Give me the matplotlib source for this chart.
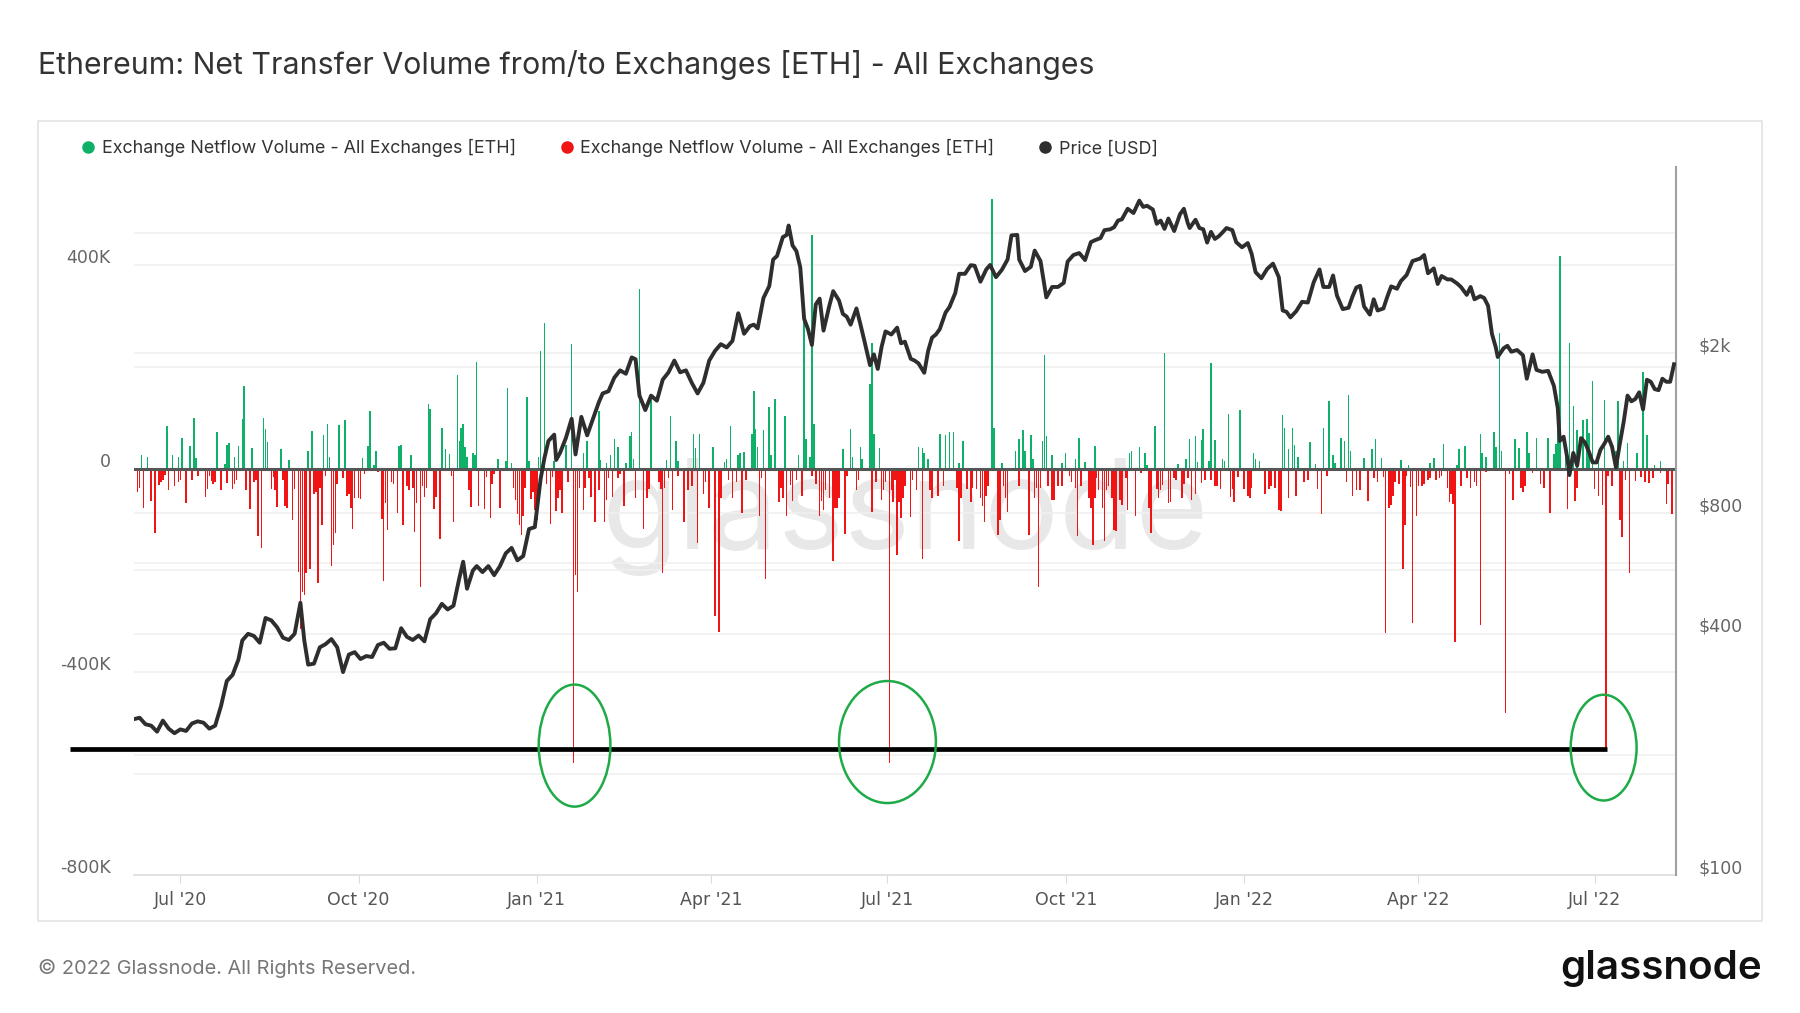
import numpy as np
import pandas as pd
import matplotlib
matplotlib.use("Agg")
import matplotlib.pyplot as plt
import matplotlib.dates as mdates
from matplotlib.patches import Ellipse, Rectangle
from matplotlib.lines import Line2D
from matplotlib.ticker import FixedLocator, NullFormatter
from matplotlib.transforms import ScaledTranslation, blended_transform_factory

# ---------- DATA ----------
START = pd.Timestamp("2020-06-07")   # day 0 of the netflow day offsets

# inflow days (net positive, green) : day offset from START, value in K ETH
GREEN_DAYS = [4, 7, 17, 20, 23, 25, 29, 31, 32, 43, 47, 48, 49, 52, 54, 56, 57, 61, 67, 68,
              69, 76, 80, 90, 92, 98, 100, 101, 106, 109, 118, 121, 122, 124, 125, 137, 138, 143, 152, 153,
              159, 161, 163, 167, 168, 169, 170, 171, 172, 175, 176, 177, 188, 192, 193, 195, 203, 204, 209, 210,
              212, 217, 223, 226, 232, 234, 240, 241, 244, 246, 248, 250, 254, 256, 257, 258, 261, 267, 275, 277,
              280, 281, 289, 290, 292, 299, 305, 306, 308, 312, 313, 315,
              319, 320, 321, 322, 325, 328, 329, 331, 336, 343, 346, 347, 349, 350, 351, 366, 370, 371, 375, 376,
              380, 381, 382, 385, 405, 407, 408, 410, 416, 419, 421, 423, 426, 428, 443, 444, 448, 455, 457, 459,
              460, 463, 464, 469, 470, 471, 474,
              479, 481, 486, 488, 491, 496, 514, 515, 519, 522, 523, 527, 532, 539, 543, 545, 548, 549, 551, 552,
              555, 556, 558, 562, 563, 565, 571, 578, 579, 581, 593, 594, 596, 598, 599, 601, 607, 610, 614, 617,
              619, 620, 623, 625, 627, 628, 635,
              639, 641, 644, 654, 658, 669, 671, 676, 683, 684, 687, 695, 696, 698, 702, 703, 705, 706, 713, 715,
              719, 720, 724, 730, 733, 734, 735, 736, 739, 741, 743, 745, 748, 750, 751, 753, 756, 759, 765, 766,
              769, 771, 776, 779, 781, 785, 788]
GREEN_K = [26, 22, 83, 26, 22, 61, 44, 100, 20, 71, 8, 47, 51, 22, 44, 97, 162, 41, 100, 77,
           53, 39, 17, 35, 74, 65, 88, 22, 85, 95, 20, 44, 114, 6, 35, 44, 46, 26, 127, 118,
           79, 39, 29, 183, 55, 79, 88, 43, 22, 31, 26, 210, 18, 14, 159, 10, 141, 14, 22, 231,
           286, 14, 47, 245, 31, 55, 113, 16, 10, 26, 59, 43, 10, 63, 71, 18, 353, 147, 16, 103,
           55, 14, 68, 40, 68, 43, 13, 18, 83, 26, 31, 32,
           67, 153, 77, 43, 75, 121, 26, 137, 103, 26, 296, 59, 22, 460, 88, 39, 77, 22, 43, 18,
           167, 247, 67, 40, 43, 41, 31, 18, 67, 65, 71, 71, 10, 55, 531, 79, 10, 35, 59, 76,
           35, 65, 18, 55, 223, 64, 26,
           10, 31, 18, 61, 13, 44, 31, 35, 43, 31, 6, 83, 227, 8, 18, 59, 63, 13, 56, 77,
           14, 207, 56, 18, 14, 107, 115, 31, 18, 14, 105, 79, 39, 79, 47, 22, 53, 8, 79, 133,
           26, 10, 61, 55, 145, 35, 20,
           39, 59, 20, 17, 6, 10, 20, 48, 6, 39, 44, 67, 31, 22, 71, 43, 267, 35, 59, 41,
           71, 31, 61, 61, 29, 48, 75, 418, 47, 247, 123, 75, 96, 97, 69, 173, 37, 135, 35, 133,
           14, 51, 31, 189, 65, 6, 14]

# outflow days (net negative, red)
RED_DAYS = [2, 3, 5, 9, 11, 13, 14, 15, 16, 18, 21, 23, 24, 27, 30, 33, 37, 38, 39, 40,
            41, 42, 45, 48, 51, 52, 53, 58, 60, 62, 63, 64, 66, 71, 72, 73, 74, 77, 78, 79,
            82, 83, 85, 86, 87, 88, 89, 91, 93, 94, 95, 96, 97, 99, 102, 103, 104, 105, 108, 110,
            111, 112, 113, 114, 116, 117, 119, 126, 128, 129, 130, 131, 133, 134, 136, 139, 141, 142, 144, 145,
            146, 148, 149, 150, 151, 155, 156,
            158, 164, 165, 173, 174, 178, 181, 182, 184, 185, 186, 189, 196, 197, 198, 199, 200, 201, 202, 205,
            206, 207, 208, 213, 215, 216, 218, 219, 220, 221, 224, 227, 228, 229, 230, 232, 233, 235, 236, 238,
            240, 243, 244, 245, 247, 250, 251, 253, 259, 263, 265, 266, 271, 272, 273, 274, 276, 278, 281, 284,
            286, 288, 291, 294, 295, 297, 300, 302, 303, 307, 309, 311, 314, 316,
            323, 324, 326, 333, 334, 335, 337, 339, 340, 342, 345, 350, 352, 354, 355, 356, 357, 359, 361, 362,
            363, 364, 367, 368, 373, 374, 381, 383, 386, 387, 388, 390, 391, 392, 393, 394, 395, 396, 397, 398,
            401, 402, 404, 407, 411, 412, 415, 418, 425, 426, 427, 430, 432, 433, 435, 437, 438, 439, 440, 441,
            446, 447, 449, 450, 451, 457, 462, 465, 466, 467, 468, 472, 474, 475, 477,
            479, 483, 484, 486, 487, 489, 493, 494, 495, 496, 497, 498, 500, 501, 502, 503, 505, 506, 507, 509,
            510, 512, 513, 517, 520, 524, 525, 528, 529, 530, 531, 534, 535, 537, 538, 541, 542, 544, 546, 548,
            551, 553, 556, 558, 559, 561, 566, 567, 568, 570, 573, 575, 576, 577, 584, 586, 587, 589, 591, 592,
            596, 600, 604, 606, 611, 613, 616, 626, 629, 631, 633, 637,
            640, 642, 645, 646, 648, 649, 650, 651, 653, 655, 656, 657, 659, 660, 662, 663, 665, 666, 668, 669,
            672, 674, 675, 678, 679, 680, 681, 682, 685, 688, 690, 692, 693, 695, 698, 708, 710, 712, 716, 717,
            718, 722, 726, 728, 731, 740, 741, 744, 745, 754, 756, 758, 760, 761, 763, 767, 768, 770, 772, 775,
            778, 780, 782, 784, 788, 791, 792, 794]
RED_K = [-46, -38, -78, -64, -126, -32, -26, -22, -12, -43, -35, -26, -22, -67, -22, -14, -56, -40, -14, -24,
         -30, -26, -43, -28, -40, -30, -22, -43, -80, -26, -23, -132, -156, -40, -16, -43, -76, -22, -74, -78,
         -102, -40, -204, -316, -243, -249, -206, -197, -50, -46, -226, -38, -112, -14, -192, -150, -126, -30, -18, -54,
         -50, -78, -118, -58, -58, -60, -10, -6, -100, -221, -68, -120, -26, -30, -88, -112, -34, -43, -38, -124,
         -67, -233, -34, -56, -38, -80, -56,
         -138, -14, -106, -43, -76, -74, -80, -16, -98, -30, -10, -78, -38, -62, -90, -112, -130, -94, -38, -60,
         -46, -82, -102, -30, -110, -16, -84, -58, -42, -88, -26, -580, -210, -243, -38, -82, -38, -18, -56, -106,
         -42, -106, -62, -18, -56, -18, -10, -74, -58, -118, -58, -40, -26, -40, -206, -38, -18, -82, -14, -106,
         -42, -34, -146, -50, -26, -78, -291, -321, -58, -22, -58, -26, -88, -22,
         -94, -18, -217, -66, -38, -58, -94, -32, -64, -22, -54, -14, -30, -94, -64, -82, -42, -58, -182, -78,
         -78, -58, -128, -14, -42, -22, -86, -26, -62, -42, -26, -580, -42, -66, -22, -170, -66, -98, -58, -34,
         -96, -22, -42, -178, -42, -58, -54, -34, -38, -142, -58, -40, -66, -38, -40, -58, -74, -106, -54, -34,
         -130, -102, -34, -58, -86, -34, -130, -58, -38, -233, -38, -34, -62, -62, -34,
         -34, -14, -26, -38, -132, -34, -58, -78, -150, -58, -18, -42, -78, -142, -42, -34, -58, -120, -122, -62,
         -72, -18, -82, -94, -8, -78, -126, -40, -58, -42, -32, -67, -66, -19, -22, -58, -30, -19, -62, -50,
         -28, -22, -22, -34, -34, -40, -56, -40, -66, -16, -40, -54, -58, -38, -50, -40, -34, -38, -82, -84,
         -58, -54, -26, -22, -40, -90, -14, -26, -54, -43, -42, -64,
         -18, -26, -16, -324, -78, -72, -54, -26, -31, -198, -112, -14, -36, -303, -94, -34, -34, -30, -22, -18,
         -22, -18, -14, -38, -66, -50, -70, -341, -34, -18, -38, -26, -34, -307, -6, -481, -10, -62, -38, -46,
         -34, -8, -30, -38, -88, -80, -14, -64, -38, -40, -54, -72, -552, -14, -34, -102, -134, -22, -206, -24,
         -16, -26, -28, -18, -8, -70, -30, -90]

PRICE_DATES = [
    "2020-06-07", "2020-06-10", "2020-06-13", "2020-06-16", "2020-06-19", "2020-06-22", "2020-06-25", "2020-06-28",
    "2020-07-01", "2020-07-04", "2020-07-07", "2020-07-10", "2020-07-13", "2020-07-16", "2020-07-19", "2020-07-22",
    "2020-07-25", "2020-07-28", "2020-07-31", "2020-08-02", "2020-08-05", "2020-08-08", "2020-08-11", "2020-08-14",
    "2020-08-17", "2020-08-20", "2020-08-23", "2020-08-26", "2020-08-29", "2020-09-01", "2020-09-03", "2020-09-05",
    "2020-09-08", "2020-09-11", "2020-09-14", "2020-09-17", "2020-09-20", "2020-09-23", "2020-09-26", "2020-09-29",
    "2020-10-02", "2020-10-05", "2020-10-08", "2020-10-11", "2020-10-14", "2020-10-17", "2020-10-20", "2020-10-23",
    "2020-10-26", "2020-10-29", "2020-11-01", "2020-11-04", "2020-11-07", "2020-11-10", "2020-11-13", "2020-11-16",
    "2020-11-19", "2020-11-22", "2020-11-24", "2020-11-26", "2020-11-29", "2020-12-01", "2020-12-04", "2020-12-07",
    "2020-12-10", "2020-12-13", "2020-12-16", "2020-12-19", "2020-12-22", "2020-12-25", "2020-12-28", "2020-12-31",
    "2021-01-03", "2021-01-05", "2021-01-07", "2021-01-10", "2021-01-11", "2021-01-13", "2021-01-16", "2021-01-19",
    "2021-01-21", "2021-01-24", "2021-01-27", "2021-01-30", "2021-02-02", "2021-02-04", "2021-02-07", "2021-02-10",
    "2021-02-13", "2021-02-16", "2021-02-19", "2021-02-21", "2021-02-23", "2021-02-26", "2021-03-01", "2021-03-04",
    "2021-03-07", "2021-03-10", "2021-03-13", "2021-03-16", "2021-03-19", "2021-03-22", "2021-03-25", "2021-03-28",
    "2021-03-31", "2021-04-03", "2021-04-06", "2021-04-09", "2021-04-12", "2021-04-15", "2021-04-16", "2021-04-18",
    "2021-04-21", "2021-04-23", "2021-04-25", "2021-04-28", "2021-05-01", "2021-05-03", "2021-05-05", "2021-05-08",
    "2021-05-10", "2021-05-11", "2021-05-13", "2021-05-15", "2021-05-17", "2021-05-19", "2021-05-21", "2021-05-23",
    "2021-05-25", "2021-05-27", "2021-05-29", "2021-06-01", "2021-06-03", "2021-06-06", "2021-06-08", "2021-06-10",
    "2021-06-12", "2021-06-15", "2021-06-17", "2021-06-19", "2021-06-22", "2021-06-24", "2021-06-26", "2021-06-28",
    "2021-06-30", "2021-07-03", "2021-07-06", "2021-07-08", "2021-07-10", "2021-07-13", "2021-07-15", "2021-07-17",
    "2021-07-20", "2021-07-22", "2021-07-24", "2021-07-26", "2021-07-28", "2021-07-31", "2021-08-02", "2021-08-05",
    "2021-08-07", "2021-08-10", "2021-08-13", "2021-08-15", "2021-08-18", "2021-08-21", "2021-08-23", "2021-08-26",
    "2021-08-29", "2021-09-01", "2021-09-03", "2021-09-06", "2021-09-07", "2021-09-10", "2021-09-13", "2021-09-15",
    "2021-09-18", "2021-09-21", "2021-09-24", "2021-09-27", "2021-09-30", "2021-10-02", "2021-10-05", "2021-10-08",
    "2021-10-11", "2021-10-14", "2021-10-16", "2021-10-19", "2021-10-21", "2021-10-24", "2021-10-26", "2021-10-28",
    "2021-10-30", "2021-11-02", "2021-11-05", "2021-11-08", "2021-11-10", "2021-11-12", "2021-11-15", "2021-11-17",
    "2021-11-19", "2021-11-21", "2021-11-23", "2021-11-26", "2021-11-29", "2021-12-01", "2021-12-03", "2021-12-04",
    "2021-12-07", "2021-12-09", "2021-12-11", "2021-12-13", "2021-12-15", "2021-12-17", "2021-12-19", "2021-12-21",
    "2021-12-23", "2021-12-26", "2021-12-28", "2021-12-31", "2022-01-03", "2022-01-05", "2022-01-07", "2022-01-10",
    "2022-01-13", "2022-01-16", "2022-01-19", "2022-01-21", "2022-01-23", "2022-01-25", "2022-01-28", "2022-01-31",
    "2022-02-03", "2022-02-06", "2022-02-09", "2022-02-11", "2022-02-14", "2022-02-16", "2022-02-18", "2022-02-21",
    "2022-02-24", "2022-02-26", "2022-02-28", "2022-03-02", "2022-03-04", "2022-03-07", "2022-03-09", "2022-03-11",
    "2022-03-14", "2022-03-16", "2022-03-18", "2022-03-21", "2022-03-23", "2022-03-26", "2022-03-29", "2022-04-02",
    "2022-04-04", "2022-04-06", "2022-04-09", "2022-04-11", "2022-04-13", "2022-04-16", "2022-04-18", "2022-04-21",
    "2022-04-23", "2022-04-26", "2022-04-28", "2022-04-30", "2022-05-03", "2022-05-05", "2022-05-07", "2022-05-09",
    "2022-05-11", "2022-05-12", "2022-05-15", "2022-05-17", "2022-05-19", "2022-05-22", "2022-05-25", "2022-05-27",
    "2022-05-30", "2022-06-01", "2022-06-04", "2022-06-07", "2022-06-10", "2022-06-12", "2022-06-13", "2022-06-15",
    "2022-06-17", "2022-06-18", "2022-06-20", "2022-06-22", "2022-06-24", "2022-06-26", "2022-06-28", "2022-06-30",
    "2022-07-02", "2022-07-04", "2022-07-06", "2022-07-08", "2022-07-10", "2022-07-12", "2022-07-14", "2022-07-16",
    "2022-07-18", "2022-07-20", "2022-07-22", "2022-07-24", "2022-07-26", "2022-07-28", "2022-07-30", "2022-08-01",
    "2022-08-03", "2022-08-05", "2022-08-07", "2022-08-09", "2022-08-11"]
PRICE_USD = [
    245, 247, 238, 236, 228, 243, 232, 226,
    231, 229, 239, 242, 240, 232, 236, 264,
    305, 316, 345, 385, 400, 395, 380, 438,
    432, 415, 391, 386, 400, 478, 385, 335,
    337, 370, 377, 388, 370, 321, 355, 360,
    346, 352, 350, 375, 380, 367, 368, 413,
    393, 386, 396, 383, 435, 450, 475, 460,
    470, 550, 605, 518, 575, 590, 570, 590,
    560, 590, 635, 655, 610, 625, 730, 738,
    975, 1100, 1210, 1255, 1085, 1130, 1230, 1375,
    1120, 1390, 1250, 1375, 1510, 1590, 1610, 1740,
    1815, 1780, 1955, 1935, 1570, 1445, 1570, 1525,
    1720, 1795, 1920, 1795, 1815, 1690, 1590, 1690,
    1920, 2030, 2110, 2070, 2150, 2520, 2430, 2240,
    2340, 2360, 2310, 2750, 2945, 3430, 3500, 3900,
    3950, 4170, 3720, 3600, 3280, 2440, 2300, 2100,
    2650, 2740, 2280, 2630, 2860, 2710, 2510, 2470,
    2360, 2590, 2370, 2160, 1870, 1990, 1830, 2080,
    2270, 2230, 2320, 2120, 2140, 1940, 1920, 1890,
    1790, 2030, 2190, 2230, 2300, 2530, 2610, 2830,
    3160, 3160, 3320, 3310, 3020, 3240, 3325, 3100,
    3230, 3430, 3940, 3950, 3430, 3210, 3290, 3610,
    3400, 2760, 2930, 2930, 3000, 3390, 3520, 3560,
    3420, 3790, 3830, 3880, 4060, 4080, 4130, 4290,
    4320, 4590, 4480, 4810, 4640, 4670, 4570, 4210,
    4290, 4090, 4340, 4040, 4450, 4590, 4230, 4110,
    4310, 4110, 4080, 3780, 4020, 3860, 3920, 4010,
    4110, 4060, 3790, 3680, 3770, 3540, 3190, 3080,
    3250, 3350, 3100, 2560, 2540, 2460, 2550, 2690,
    2680, 3010, 3240, 2930, 2930, 3130, 2790, 2580,
    2600, 2770, 2920, 2950, 2620, 2500, 2730, 2560,
    2590, 2770, 2940, 2900, 3030, 3140, 3400, 3450,
    3520, 3170, 3260, 2980, 3120, 3060, 3060, 2990,
    2930, 2800, 2930, 2730, 2780, 2750, 2630, 2240,
    2070, 1960, 2060, 2090, 2020, 2040, 1980, 1730,
    1990, 1820, 1800, 1810, 1660, 1460, 1210, 1240,
    1090, 995, 1130, 1050, 1230, 1200, 1140, 1070,
    1070, 1150, 1190, 1240, 1170, 1040, 1190, 1350,
    1570, 1520, 1540, 1600, 1450, 1720, 1700, 1630,
    1620, 1730, 1700, 1700, 1880]

# hand-drawn highlight overlay
HIGHLIGHT_DATES = ["2021-01-20 12:00", "2021-07-01", "2022-07-05 16:00"]
HIGHLIGHT_LEVEL = [-545e3, -538e3, -549e3]
BASELINE_LEVEL = -551e3
BASELINE_SPAN = ["2020-05-05", "2022-07-07 12:00"]

# ---------- STYLE ----------
X_RANGE = ("2020-06-07 06:00", "2022-08-12")
LEFT_LIM = (-800e3, 594e3)
RIGHT_LIM = (100, 5850)
LEFT_LABELS = [-800e3, -400e3, 0, 400e3]
LEFT_GRID = [-600e3, -400e3, -200e3, 200e3, 400e3]
RIGHT_LABELS = [100, 400, 800, 2000]
RIGHT_GRID = [200, 400, 600, 800, 2000, 4000]

COLOR_IN = '#0fb169'
COLOR_OUT = '#f01414'
COLOR_PRICE = '#2e2e2e'
COLOR_RING = '#1faa48'
COLOR_GRID = '#f0f0f0'
COLOR_TICK = '#666666'
TICK_FS = 12.5

plt.rcParams['font.family'] = ['Inter', 'DejaVu Sans']

fig = plt.figure(figsize=(18, 10.13), dpi=100)
fig.patch.set_facecolor('white')
ax = fig.add_axes([0.0746, 0.136, 0.8565, 0.6996])
ax2 = ax.twinx()

# outer frame
fig.patches.append(Rectangle((0.021, 0.091), 0.958, 0.790, transform=fig.transFigure,
                             fill=False, edgecolor='#e3e3e3', lw=1.2))

# watermark
ax.text(0.5, 0.505, "glassnode", transform=ax.transAxes, ha='center', va='center',
        fontsize=90, color='#e8e8e8', zorder=0.2)

# ---------- bars ----------
g_dates = START + pd.to_timedelta(GREEN_DAYS, unit='D')
r_dates = START + pd.to_timedelta(RED_DAYS, unit='D')
ax.bar(g_dates, np.array(GREEN_K) * 1e3, width=0.8, color=COLOR_IN, linewidth=0,
       antialiased=False, zorder=2)
ax.bar(r_dates, np.array(RED_K) * 1e3, width=0.8, color=COLOR_OUT, linewidth=0,
       antialiased=False, zorder=2)
ax.axhline(0, color='#555555', lw=2.2, zorder=3)

ax.set_xlim(pd.Timestamp(X_RANGE[0]), pd.Timestamp(X_RANGE[1]))
ax.set_ylim(*LEFT_LIM)

# ---------- price ----------
ax2.set_yscale('log')
ax2.set_ylim(*RIGHT_LIM)
ax2.plot(pd.to_datetime(PRICE_DATES), PRICE_USD, color=COLOR_PRICE, lw=2.8,
         solid_joinstyle='round', zorder=3)

# grids (drawn on the bar axes so they stay underneath)
ax.yaxis.set_major_locator(FixedLocator(LEFT_LABELS))
ax.tick_params(axis='y', left=False, labelleft=False)
for v in LEFT_GRID:
    ax.axhline(v, color=COLOR_GRID, lw=1.2, zorder=0.5)
price_tf = blended_transform_factory(ax.transAxes, ax2.transData)
for p in RIGHT_GRID:
    ax.plot([0, 1], [p, p], transform=price_tf, color=COLOR_GRID, lw=1.2, zorder=0.5)

# y labels sit a bit above their gridline
lift = ScaledTranslation(0, 5 / 72, fig.dpi_scale_trans)
ltf = blended_transform_factory(ax.transAxes, ax.transData) + \
    ScaledTranslation(-17 / 72, 0, fig.dpi_scale_trans) + lift
for v in LEFT_LABELS:
    txt = "0" if v == 0 else f"{int(v / 1e3)}K"
    ax.text(0, v, txt, transform=ltf, ha='right', va='center', fontsize=TICK_FS,
            color=COLOR_TICK, family='DejaVu Sans')
rtf = price_tf + ScaledTranslation(16 / 72, 0, fig.dpi_scale_trans) + lift
for p in RIGHT_LABELS:
    txt = f"${p // 1000}k" if p >= 1000 else f"${p}"
    ax.text(1, p, txt, transform=rtf, ha='left', va='center', fontsize=TICK_FS,
            color=COLOR_TICK, family='DejaVu Sans', clip_on=False)
ax2.tick_params(axis='y', which='both', right=False, labelright=False)
ax2.yaxis.set_minor_formatter(NullFormatter())

# x axis
ax.xaxis.set_major_locator(mdates.MonthLocator(bymonth=[1, 4, 7, 10]))
ax.xaxis.set_major_formatter(mdates.DateFormatter("%b '%y"))
ax.tick_params(axis='x', length=6, color='#dddddd', pad=5, labelsize=TICK_FS,
               labelcolor='#555555')
for lab in ax.get_xticklabels():
    lab.set_family('DejaVu Sans')

for a in (ax, ax2):
    a.spines['top'].set_visible(False)
    a.spines['left'].set_visible(False)
    a.spines['right'].set_visible(False)
ax.spines['bottom'].set_color('#dddddd')
ax.spines['bottom'].set_linewidth(1.2)
ax2.spines['bottom'].set_visible(False)
ax2.spines['right'].set_visible(True)
ax2.spines['right'].set_color('#a0a0a0')
ax2.spines['right'].set_linewidth(1.5)

# ---------- highlight overlay ----------
base_x = [pd.Timestamp(s) for s in BASELINE_SPAN]
ax2.plot(base_x, [BASELINE_LEVEL] * 2, transform=ax.transData,
         color='black', lw=3.4, solid_capstyle='butt', clip_on=False, zorder=5)
ring_w = [37, 50, 34]          # days
ring_h = [240e3, 240e3, 208e3]
for d, lvl, w, h in zip(HIGHLIGHT_DATES, HIGHLIGHT_LEVEL, ring_w, ring_h):
    e = Ellipse((mdates.date2num(pd.Timestamp(d)), lvl), w, h, transform=ax.transData,
                fill=False, edgecolor=COLOR_RING, lw=1.8, zorder=6)
    ax2.add_patch(e)

# ---------- texts ----------
fig.text(0.021, 0.9355, "Ethereum: Net Transfer Volume from/to Exchanges [ETH] - All Exchanges",
         fontsize=21.8, color='#333333', va='center', ha='left')

handles = [Line2D([], [], ls='none', marker='o', ms=8, color=c) for c in (COLOR_IN, COLOR_OUT, COLOR_PRICE)]
labels = ["Exchange Netflow Volume - All Exchanges [ETH]"] * 2 + ["Price [USD]"]
fig.legend(handles, labels, loc='center left', bbox_to_anchor=(0.035, 0.8537), ncol=3,
           frameon=False, fontsize=12.9, handletextpad=0.25, columnspacing=2.35,
           handlelength=1.0, labelcolor='#333333')

fig.text(0.021, 0.0442, "© 2022 Glassnode. All Rights Reserved.", fontsize=14.4,
         color='#777777', va='center', ha='left')
fig.text(0.979, 0.0442, "glassnode", fontsize=29, color='#111111', weight='semibold',
         va='center', ha='right')

fig.savefig("out.png", dpi=100, facecolor='white')
